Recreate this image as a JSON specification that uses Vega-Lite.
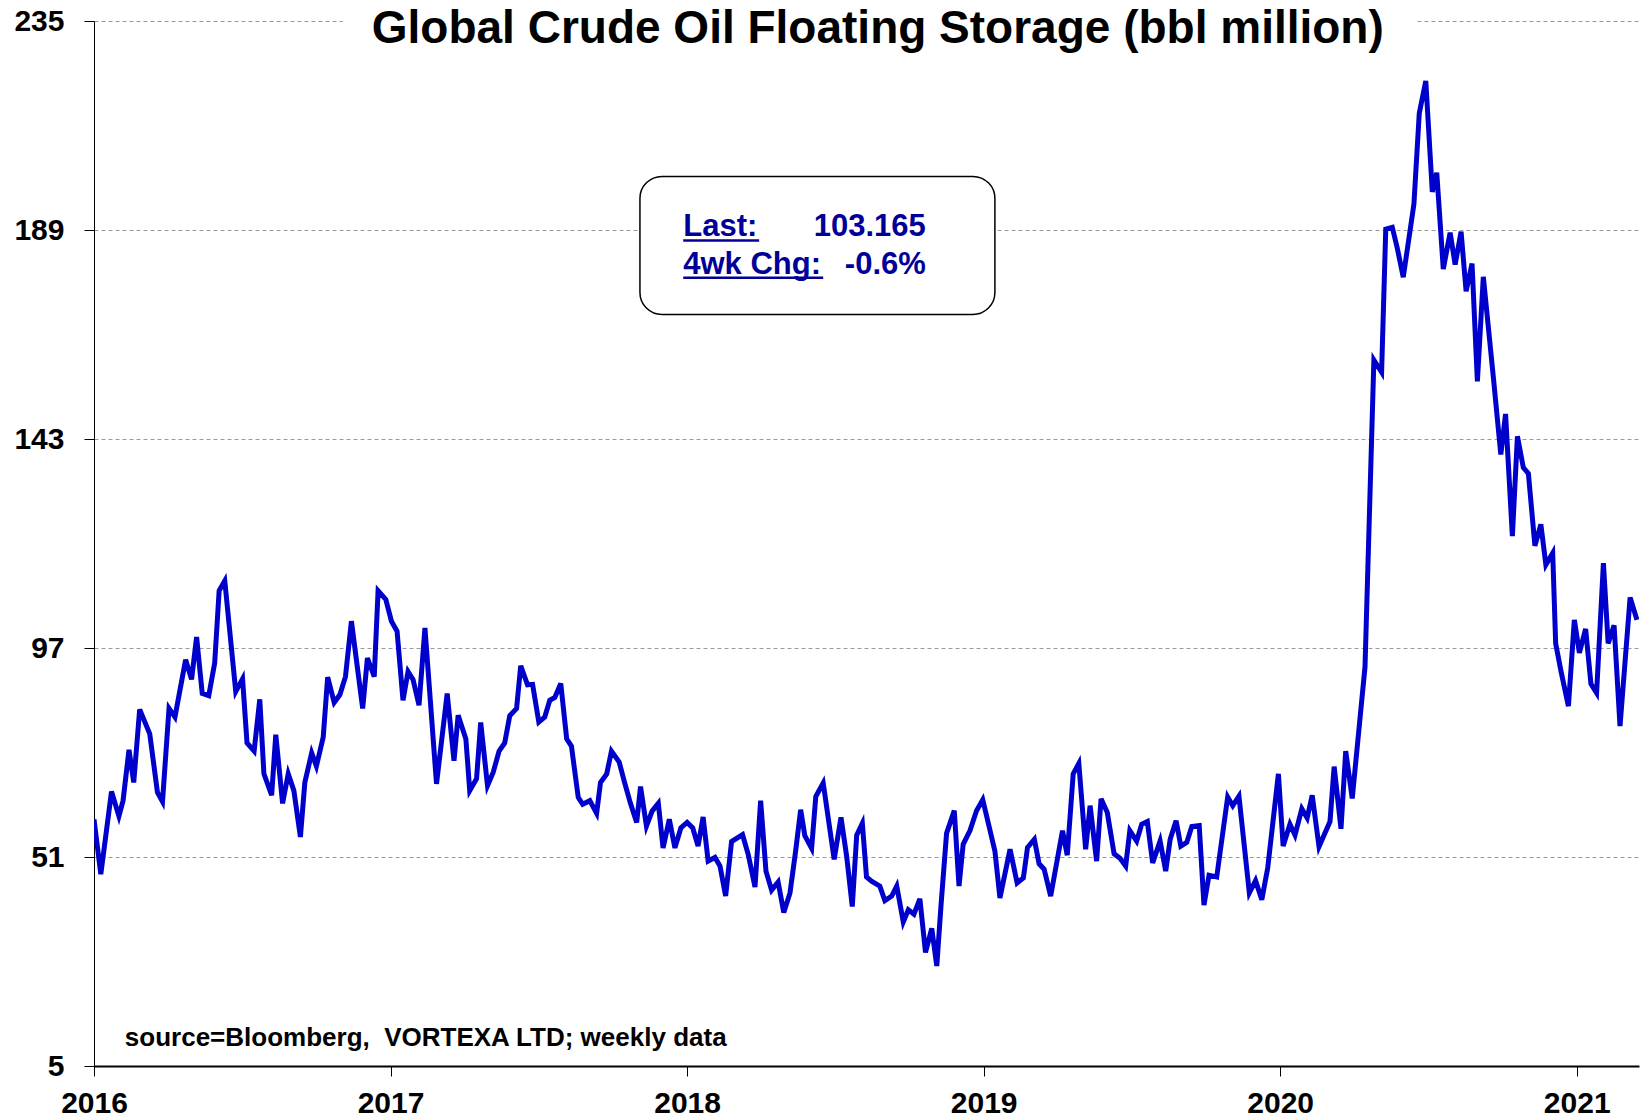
{
  "$schema": "https://vega.github.io/schema/vega-lite/v6.json",
  "width": 1545,
  "height": 1045,
  "autosize": "none",
  "padding": {"left": 94, "top": 21, "right": 3, "bottom": 53},
  "background": "white",
  "config": {
    "font": "Liberation Sans",
    "view": {"stroke": null},
    "axis": {"labelFont": "Liberation Sans", "labelFontWeight": "bold", "labelColor": "black", "labelFontSize": 30, "tickColor": "black", "domainColor": "black", "title": null}
  },
  "datasets": {
    "storage": [
      {"year": 2016.000, "value": 59.3}, {"year": 2016.023, "value": 47.2}, {"year": 2016.059, "value": 65.4},
      {"year": 2016.084, "value": 60.0}, {"year": 2016.098, "value": 63.4}, {"year": 2016.118, "value": 74.6},
      {"year": 2016.134, "value": 67.4}, {"year": 2016.154, "value": 83.5}, {"year": 2016.188, "value": 78.1},
      {"year": 2016.214, "value": 65.2}, {"year": 2016.231, "value": 63.2}, {"year": 2016.253, "value": 83.7},
      {"year": 2016.273, "value": 81.8}, {"year": 2016.309, "value": 94.4}, {"year": 2016.329, "value": 90.1},
      {"year": 2016.346, "value": 99.4}, {"year": 2016.365, "value": 87.0}, {"year": 2016.387, "value": 86.5},
      {"year": 2016.407, "value": 93.7}, {"year": 2016.422, "value": 109.6}, {"year": 2016.441, "value": 111.8},
      {"year": 2016.478, "value": 87.4}, {"year": 2016.501, "value": 90.2}, {"year": 2016.516, "value": 76.1},
      {"year": 2016.540, "value": 74.3}, {"year": 2016.559, "value": 85.7}, {"year": 2016.573, "value": 69.3},
      {"year": 2016.599, "value": 64.6}, {"year": 2016.613, "value": 77.9}, {"year": 2016.636, "value": 62.8},
      {"year": 2016.655, "value": 69.3}, {"year": 2016.674, "value": 65.6}, {"year": 2016.696, "value": 55.4},
      {"year": 2016.711, "value": 67.4}, {"year": 2016.734, "value": 73.9}, {"year": 2016.750, "value": 71.0},
      {"year": 2016.773, "value": 77.4}, {"year": 2016.788, "value": 90.6}, {"year": 2016.810, "value": 85.0},
      {"year": 2016.829, "value": 86.7}, {"year": 2016.848, "value": 90.7}, {"year": 2016.868, "value": 102.9},
      {"year": 2016.906, "value": 83.7}, {"year": 2016.922, "value": 94.8}, {"year": 2016.945, "value": 90.7},
      {"year": 2016.958, "value": 109.6}, {"year": 2016.984, "value": 107.7}, {"year": 2017.003, "value": 102.9},
      {"year": 2017.022, "value": 100.7}, {"year": 2017.042, "value": 85.5}, {"year": 2017.059, "value": 91.8},
      {"year": 2017.076, "value": 90.0}, {"year": 2017.096, "value": 84.4}, {"year": 2017.116, "value": 101.4},
      {"year": 2017.155, "value": 67.1}, {"year": 2017.191, "value": 87.0}, {"year": 2017.214, "value": 72.2},
      {"year": 2017.228, "value": 82.2}, {"year": 2017.254, "value": 77.0}, {"year": 2017.267, "value": 65.6},
      {"year": 2017.290, "value": 68.2}, {"year": 2017.304, "value": 80.6}, {"year": 2017.327, "value": 66.7},
      {"year": 2017.346, "value": 69.6}, {"year": 2017.366, "value": 74.3}, {"year": 2017.385, "value": 76.1},
      {"year": 2017.402, "value": 82.1}, {"year": 2017.425, "value": 83.7}, {"year": 2017.439, "value": 93.1},
      {"year": 2017.462, "value": 88.9}, {"year": 2017.479, "value": 89.0}, {"year": 2017.500, "value": 80.7},
      {"year": 2017.520, "value": 81.8}, {"year": 2017.537, "value": 85.5}, {"year": 2017.554, "value": 86.1},
      {"year": 2017.574, "value": 89.2}, {"year": 2017.594, "value": 77.0}, {"year": 2017.610, "value": 75.4},
      {"year": 2017.633, "value": 64.1}, {"year": 2017.648, "value": 62.6}, {"year": 2017.672, "value": 63.4},
      {"year": 2017.695, "value": 60.6}, {"year": 2017.708, "value": 67.4}, {"year": 2017.729, "value": 69.3},
      {"year": 2017.745, "value": 74.3}, {"year": 2017.771, "value": 71.9}, {"year": 2017.790, "value": 67.2},
      {"year": 2017.809, "value": 62.8}, {"year": 2017.830, "value": 58.6}, {"year": 2017.843, "value": 66.5},
      {"year": 2017.863, "value": 57.8}, {"year": 2017.882, "value": 61.1}, {"year": 2017.903, "value": 62.8},
      {"year": 2017.919, "value": 53.0}, {"year": 2017.940, "value": 59.3}, {"year": 2017.959, "value": 53.0},
      {"year": 2017.979, "value": 57.4}, {"year": 2018.000, "value": 58.6}, {"year": 2018.019, "value": 57.4},
      {"year": 2018.037, "value": 53.4}, {"year": 2018.054, "value": 59.8}, {"year": 2018.071, "value": 50.1},
      {"year": 2018.094, "value": 50.9}, {"year": 2018.111, "value": 49.0}, {"year": 2018.130, "value": 42.4},
      {"year": 2018.150, "value": 54.4}, {"year": 2018.187, "value": 55.9}, {"year": 2018.206, "value": 51.6},
      {"year": 2018.229, "value": 44.4}, {"year": 2018.248, "value": 63.4}, {"year": 2018.266, "value": 47.9},
      {"year": 2018.285, "value": 43.7}, {"year": 2018.307, "value": 45.5}, {"year": 2018.326, "value": 38.8},
      {"year": 2018.347, "value": 43.1}, {"year": 2018.366, "value": 52.3}, {"year": 2018.383, "value": 61.4},
      {"year": 2018.397, "value": 55.7}, {"year": 2018.420, "value": 52.9}, {"year": 2018.434, "value": 64.3},
      {"year": 2018.459, "value": 67.3}, {"year": 2018.496, "value": 50.5}, {"year": 2018.519, "value": 59.7},
      {"year": 2018.538, "value": 51.2}, {"year": 2018.557, "value": 40.1}, {"year": 2018.572, "value": 55.8},
      {"year": 2018.591, "value": 58.4}, {"year": 2018.605, "value": 46.6}, {"year": 2018.622, "value": 45.7},
      {"year": 2018.650, "value": 44.6}, {"year": 2018.667, "value": 41.4}, {"year": 2018.690, "value": 42.4},
      {"year": 2018.707, "value": 44.6}, {"year": 2018.729, "value": 36.7}, {"year": 2018.746, "value": 39.4},
      {"year": 2018.765, "value": 38.4}, {"year": 2018.785, "value": 41.8}, {"year": 2018.804, "value": 30.0},
      {"year": 2018.825, "value": 35.3}, {"year": 2018.842, "value": 27.0}, {"year": 2018.856, "value": 40.1},
      {"year": 2018.875, "value": 56.2}, {"year": 2018.901, "value": 61.2}, {"year": 2018.917, "value": 44.6},
      {"year": 2018.931, "value": 53.8}, {"year": 2018.954, "value": 56.8}, {"year": 2018.976, "value": 61.2},
      {"year": 2018.997, "value": 63.6}, {"year": 2019.021, "value": 57.0}, {"year": 2019.038, "value": 52.3},
      {"year": 2019.055, "value": 42.0}, {"year": 2019.089, "value": 52.7}, {"year": 2019.113, "value": 45.3},
      {"year": 2019.134, "value": 46.4}, {"year": 2019.148, "value": 53.1}, {"year": 2019.171, "value": 54.9},
      {"year": 2019.187, "value": 49.5}, {"year": 2019.204, "value": 48.3}, {"year": 2019.226, "value": 42.4},
      {"year": 2019.266, "value": 56.8}, {"year": 2019.282, "value": 51.4}, {"year": 2019.302, "value": 69.3},
      {"year": 2019.321, "value": 71.6}, {"year": 2019.344, "value": 52.7}, {"year": 2019.359, "value": 62.3},
      {"year": 2019.381, "value": 50.1}, {"year": 2019.396, "value": 63.8}, {"year": 2019.417, "value": 60.8},
      {"year": 2019.440, "value": 51.7}, {"year": 2019.460, "value": 50.7}, {"year": 2019.479, "value": 49.0},
      {"year": 2019.493, "value": 56.8}, {"year": 2019.516, "value": 54.5}, {"year": 2019.533, "value": 58.2},
      {"year": 2019.552, "value": 58.8}, {"year": 2019.570, "value": 49.7}, {"year": 2019.595, "value": 54.5},
      {"year": 2019.614, "value": 47.9}, {"year": 2019.629, "value": 54.9}, {"year": 2019.649, "value": 59.0},
      {"year": 2019.665, "value": 53.4}, {"year": 2019.685, "value": 54.2}, {"year": 2019.702, "value": 57.7},
      {"year": 2019.727, "value": 57.9}, {"year": 2019.743, "value": 40.4}, {"year": 2019.760, "value": 47.0},
      {"year": 2019.786, "value": 46.6}, {"year": 2019.823, "value": 64.2}, {"year": 2019.840, "value": 62.3},
      {"year": 2019.861, "value": 64.4}, {"year": 2019.896, "value": 43.1}, {"year": 2019.917, "value": 45.8},
      {"year": 2019.938, "value": 41.6}, {"year": 2019.958, "value": 48.6}, {"year": 2019.994, "value": 69.3},
      {"year": 2020.010, "value": 53.4}, {"year": 2020.033, "value": 58.2}, {"year": 2020.050, "value": 55.8},
      {"year": 2020.073, "value": 61.6}, {"year": 2020.091, "value": 59.6}, {"year": 2020.108, "value": 64.6},
      {"year": 2020.131, "value": 53.3}, {"year": 2020.168, "value": 58.8}, {"year": 2020.182, "value": 70.9},
      {"year": 2020.205, "value": 57.2}, {"year": 2020.221, "value": 74.3}, {"year": 2020.243, "value": 63.9},
      {"year": 2020.286, "value": 92.8}, {"year": 2020.316, "value": 160.4}, {"year": 2020.342, "value": 157.7},
      {"year": 2020.356, "value": 189.2}, {"year": 2020.378, "value": 189.6}, {"year": 2020.395, "value": 185.0},
      {"year": 2020.415, "value": 178.6}, {"year": 2020.451, "value": 194.7}, {"year": 2020.469, "value": 214.7},
      {"year": 2020.491, "value": 221.8}, {"year": 2020.513, "value": 197.4}, {"year": 2020.528, "value": 201.6},
      {"year": 2020.550, "value": 180.4}, {"year": 2020.573, "value": 188.4}, {"year": 2020.590, "value": 181.4},
      {"year": 2020.610, "value": 188.6}, {"year": 2020.627, "value": 175.5}, {"year": 2020.647, "value": 181.6},
      {"year": 2020.665, "value": 155.7}, {"year": 2020.685, "value": 178.7}, {"year": 2020.719, "value": 156.5},
      {"year": 2020.744, "value": 139.6}, {"year": 2020.760, "value": 148.5}, {"year": 2020.783, "value": 121.6},
      {"year": 2020.800, "value": 143.6}, {"year": 2020.820, "value": 136.7}, {"year": 2020.837, "value": 135.4},
      {"year": 2020.859, "value": 119.5}, {"year": 2020.879, "value": 124.2}, {"year": 2020.896, "value": 115.3},
      {"year": 2020.919, "value": 117.9}, {"year": 2020.929, "value": 98.0}, {"year": 2020.947, "value": 91.9},
      {"year": 2020.972, "value": 84.2}, {"year": 2020.992, "value": 103.2}, {"year": 2021.009, "value": 95.9},
      {"year": 2021.030, "value": 101.2}, {"year": 2021.048, "value": 89.1}, {"year": 2021.067, "value": 87.1},
      {"year": 2021.090, "value": 115.7}, {"year": 2021.106, "value": 98.0}, {"year": 2021.126, "value": 102.0},
      {"year": 2021.146, "value": 79.8}, {"year": 2021.180, "value": 108.1}, {"year": 2021.203, "value": 103.2}
    ]
  },
  "layer": [
    {
      "data": {"name": "storage"},
      "mark": {"type": "line", "color": "#0000CC", "strokeWidth": 5, "clip": true},
      "encoding": {
        "x": {
          "field": "year", "type": "quantitative",
          "scale": {"domain": [2016, 2021.21], "nice": false, "zero": false},
          "axis": {"values": [2016, 2017, 2018, 2019, 2020, 2021], "format": "d", "grid": false, "tickSize": 10, "domainWidth": 2, "tickWidth": 1, "labelPadding": 12, "labelFlush": false, "labelOverlap": false, "title": null}
        },
        "y": {
          "field": "value", "type": "quantitative",
          "scale": {"domain": [5, 235], "nice": false, "zero": false},
          "axis": {"values": [5, 51, 97, 143, 189, 235], "grid": true, "gridDash": [4, 3], "gridColor": "#9a9a9a", "gridWidth": 1, "tickSize": 10, "labelPadding": 20, "domainWidth": 1, "labelFlush": false, "labelOverlap": false, "title": null}
        }
      }
    },
    {
      "data": {"values": [{}]},
      "mark": {"type": "rect", "color": "white", "clip": false},
      "encoding": {
        "x": {"datum": 2016.84, "type": "quantitative"},
        "x2": {"datum": 2020.46},
        "y": {"datum": 231, "type": "quantitative"},
        "y2": {"datum": 238}
      }
    },
    {
      "data": {"values": [{"label": "Global Crude Oil Floating Storage (bbl million)"}]},
      "mark": {"type": "text", "fontSize": 46, "fontWeight": "bold", "color": "black", "align": "center", "baseline": "alphabetic", "dy": 22},
      "encoding": {
        "x": {"datum": 2018.643, "type": "quantitative"},
        "y": {"datum": 235, "type": "quantitative"},
        "text": {"field": "label"}
      }
    },
    {
      "data": {"values": [{}]},
      "mark": {"type": "rect", "fill": "white", "stroke": "black", "strokeWidth": 1.5, "cornerRadius": 22},
      "encoding": {
        "x": {"datum": 2017.841, "type": "quantitative"},
        "x2": {"datum": 2019.038},
        "y": {"datum": 200.8, "type": "quantitative"},
        "y2": {"datum": 170.4}
      }
    },
    {
      "data": {"values": [
        {"t": "Last:", "px": 2017.987, "py": 187.6},
        {"t": "4wk Chg:", "px": 2017.987, "py": 179.3}
      ]},
      "mark": {"type": "text", "fontSize": 31, "fontWeight": "bold", "color": "#000099", "align": "left", "baseline": "alphabetic"},
      "encoding": {
        "x": {"field": "px", "type": "quantitative"},
        "y": {"field": "py", "type": "quantitative"},
        "text": {"field": "t"}
      }
    },
    {
      "data": {"values": [
        {"t": "103.165", "px": 2018.805, "py": 187.6},
        {"t": "-0.6%", "px": 2018.805, "py": 179.3}
      ]},
      "mark": {"type": "text", "fontSize": 31, "fontWeight": "bold", "color": "#000099", "align": "right", "baseline": "alphabetic"},
      "encoding": {
        "x": {"field": "px", "type": "quantitative"},
        "y": {"field": "py", "type": "quantitative"},
        "text": {"field": "t"}
      }
    },
    {
      "data": {"values": [
        {"x1": 2017.987, "x2": 2018.243, "uy": 186.7},
        {"x1": 2017.987, "x2": 2018.459, "uy": 178.5}
      ]},
      "mark": {"type": "rule", "color": "#000099", "strokeWidth": 2.5},
      "encoding": {
        "x": {"field": "x1", "type": "quantitative"},
        "x2": {"field": "x2"},
        "y": {"field": "uy", "type": "quantitative"}
      }
    },
    {
      "data": {"values": [{"label": "source=Bloomberg,\u00a0 VORTEXA LTD; weekly data"}]},
      "mark": {"type": "text", "fontSize": 26, "fontWeight": "bold", "color": "black", "align": "left", "baseline": "alphabetic"},
      "encoding": {
        "x": {"datum": 2016.104, "type": "quantitative"},
        "y": {"datum": 9.3, "type": "quantitative"},
        "text": {"field": "label"}
      }
    }
  ]
}
